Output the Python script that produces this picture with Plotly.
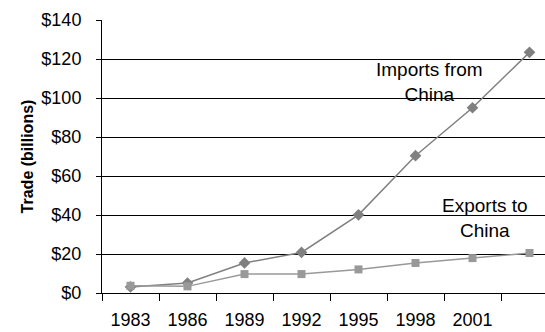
import plotly.graph_objects as go

# US trade with China, billions of dollars
years = ["1983", "1986", "1989", "1992", "1995", "1998", "2001", ""]
imports_from_china = [3.1, 5.1, 15.4, 20.8, 40.1, 70.4, 95.0, 123.4]
exports_to_china = [3.7, 3.4, 9.7, 9.7, 12.1, 15.4, 17.9, 20.5]
y_ticks = [0, 20, 40, 60, 80, 100, 120, 140]
y_tick_labels = ["$0", "$20", "$40", "$60", "$80", "$100", "$120", "$140"]

xpos = list(range(len(years)))
FONT = "Liberation Sans, Arial, sans-serif"

fig = go.Figure()
fig.add_trace(go.Scatter(
    x=xpos, y=imports_from_china, mode="lines+markers",
    line=dict(color="#808080", width=1.5),
    marker=dict(symbol="diamond", size=9, color="#808080"),
    name="Imports from China", showlegend=False,
))
fig.add_trace(go.Scatter(
    x=xpos, y=exports_to_china, mode="lines+markers",
    line=dict(color="#999999", width=1.5),
    marker=dict(symbol="square", size=8, color="#999999"),
    name="Exports to China", showlegend=False,
))

fig.add_annotation(x=5.24, y=108, text="Imports from<br>China", showarrow=False,
                   font=dict(family=FONT, size=19, color="#000"))
fig.add_annotation(x=6.22, y=38.7, text="Exports to<br>China", showarrow=False,
                   font=dict(family=FONT, size=19, color="#000"))

fig.update_xaxes(
    range=[-0.5, -0.5 + (545 - 102) / 57],
    tickmode="array", tickvals=xpos, ticktext=years, ticks="",
    ticklabelstandoff=10,
    showgrid=False, zeroline=False,
    showline=True, linecolor="#000", linewidth=1,
    tickfont=dict(family=FONT, size=18, color="#000"),
    minor=dict(tickmode="array", tickvals=[i - 0.5 for i in range(len(years))],
               ticks="outside", ticklen=7, tickcolor="#000", showgrid=False),
)
fig.update_yaxes(
    range=[0, 140], tickmode="array", tickvals=y_ticks, ticktext=y_tick_labels,
    ticks="outside", ticklen=5, tickcolor="#000",
    ticklabelstandoff=11,
    showgrid=True, gridcolor="#000", gridwidth=1, zeroline=False,
    showline=True, linecolor="#000", linewidth=1,
    tickfont=dict(family=FONT, size=18, color="#000"),
    title=dict(text="<b>Trade (billions)</b>", font=dict(family=FONT, size=16, color="#000"),
               standoff=3),
)
fig.update_layout(
    width=545, height=332,
    margin=dict(l=102, r=0, t=20, b=39),
    paper_bgcolor="#fff", plot_bgcolor="#fff",
)
fig.write_html("out.html")
